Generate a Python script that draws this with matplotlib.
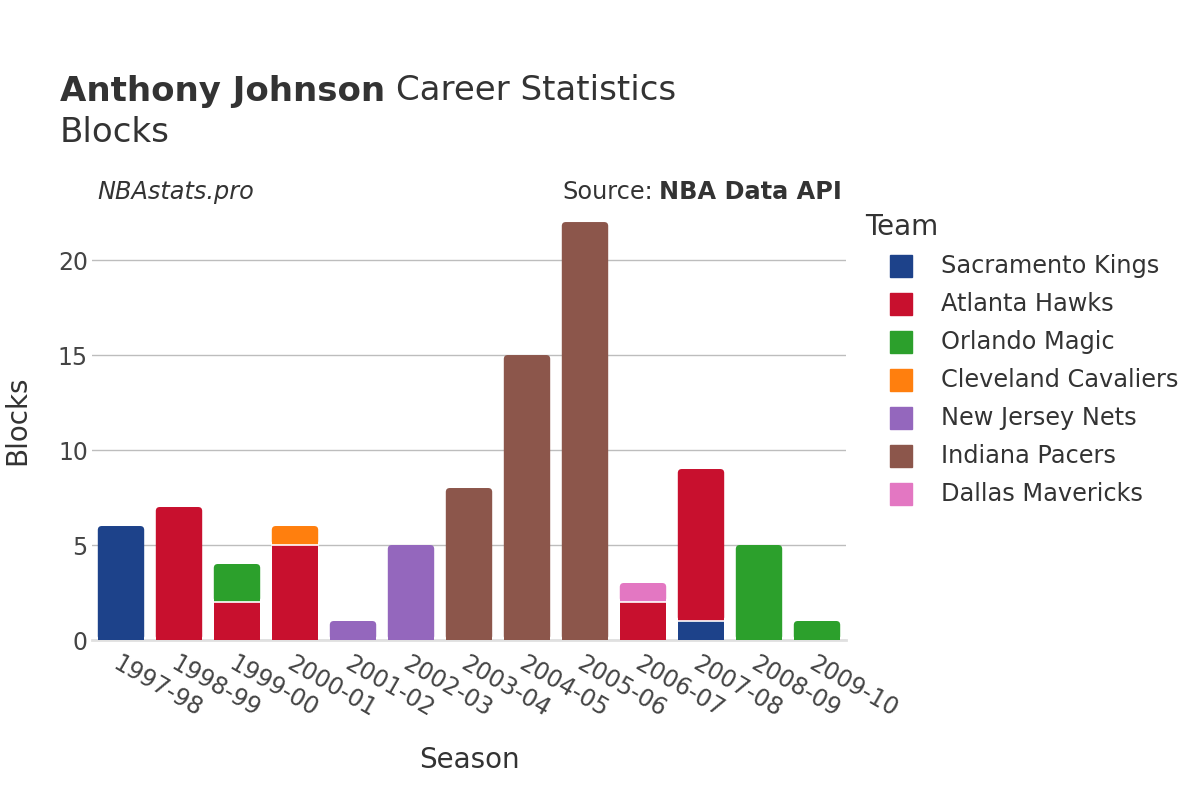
import matplotlib.pyplot as plt
from matplotlib.lines import Line2D
from matplotlib.patches import FancyBboxPatch, Rectangle
import numpy as np

plt.rcParams['font.family'] = ['DejaVu Sans']

seasons = ['1997-98', '1998-99', '1999-00', '2000-01', '2001-02', '2002-03', '2003-04',
           '2004-05', '2005-06', '2006-07', '2007-08', '2008-09', '2009-10']
teams = ['Sacramento Kings', 'Atlanta Hawks', 'Orlando Magic', 'Cleveland Cavaliers',
         'New Jersey Nets', 'Indiana Pacers', 'Dallas Mavericks']
colors = ['#1d428a', '#c8102e', '#2ca02c', '#ff7f0e', '#9467bd', '#8c564b', '#e377c2']

kings = [6, 0, 0, 0, 0, 0, 0, 0, 0, 0, 1, 0, 0]
hawks = [0, 7, 2, 5, 0, 0, 0, 0, 0, 2, 8, 0, 0]
magic = [0, 0, 2, 0, 0, 0, 0, 0, 0, 0, 0, 5, 1]
cavs = [0, 0, 0, 1, 0, 0, 0, 0, 0, 0, 0, 0, 0]
nets = [0, 0, 0, 0, 1, 5, 0, 0, 0, 0, 0, 0, 0]
pacers = [0, 0, 0, 0, 0, 0, 8, 15, 22, 0, 0, 0, 0]
mavs = [0, 0, 0, 0, 0, 0, 0, 0, 0, 1, 0, 0, 0]
series = [kings, hawks, magic, cavs, nets, pacers, mavs]

fig = plt.figure(figsize=(12, 8), dpi=100)
ax = fig.add_axes([92/1200, 160/800, (846-92)/1200, 440/800])
ax.set_xlim(-0.5, 12.5)
ax.set_ylim(0, 23.16)

x = np.arange(len(seasons))
width = 0.8
px_x = 754 / 13.0      # pixels per x unit
px_y = 440 / 23.16     # pixels per y unit
r_px = 4
rx = r_px / px_x
ry = r_px / px_y

totals = np.sum(np.array(series), axis=0)
bottom = np.zeros(len(seasons))
for vals, c in zip(series, colors):
    v = np.array(vals, dtype=float)
    for i in range(len(seasons)):
        if v[i] <= 0:
            continue
        x0 = x[i] - width / 2
        top_seg = abs(bottom[i] + v[i] - totals[i]) < 1e-9
        if top_seg:
            # rounded top corners, square bottom
            p = FancyBboxPatch((x0, bottom[i]), width, v[i],
                               boxstyle='round,pad=0,rounding_size=%f' % rx,
                               mutation_aspect=ry / rx, facecolor=c,
                               edgecolor='none', zorder=3)
            ax.add_patch(p)
            ax.add_patch(Rectangle((x0, bottom[i]), width, v[i] - ry,
                                   facecolor=c, edgecolor='none', zorder=3))
        else:
            ax.add_patch(Rectangle((x0, bottom[i]), width, v[i],
                                   facecolor=c, edgecolor='none', zorder=3))
        if bottom[i] > 0:
            ax.plot([x0, x0 + width], [bottom[i], bottom[i]], color='white',
                    linewidth=1.2, zorder=4)
    bottom += v

ax.set_yticks([0, 5, 10, 15, 20])
ax.grid(axis='y', color='#bdbdbd', linewidth=1, zorder=0)
for s in ['top', 'right', 'left']:
    ax.spines[s].set_visible(False)
ax.spines['bottom'].set_color('#e0e0e0')
ax.spines['bottom'].set_linewidth(2)
ax.tick_params(axis='both', length=0, labelsize=17, colors='#444444')
ax.tick_params(axis='y', pad=3)
ax.set_xticks(x)
ax.set_xticklabels(seasons, rotation=-30, ha='left', va='top', rotation_mode='anchor')
ax.tick_params(axis='x', pad=8)
ax.set_xlabel('Season', fontsize=20, color='#333333', labelpad=18)
ax.set_ylabel('Blocks', fontsize=20, color='#333333', labelpad=19)

# title
fig.text(60/1200, 1 - 91/800, 'Anthony Johnson', fontsize=24.5, fontweight='bold',
         color='#333333', va='center')
fig.text(396/1200, 1 - 91/800, 'Career Statistics', fontsize=24.5, color='#333333', va='center')
fig.text(60/1200, 1 - 133/800, 'Blocks', fontsize=24.5, color='#333333', va='center')

fig.text(97/1200, 1 - 192/800, 'NBAstats.pro', fontsize=17.3, style='italic',
         color='#333333', va='center')
fig.text(842/1200, 1 - 192/800, 'NBA Data API', fontsize=17.3, fontweight='bold',
         color='#333333', va='center', ha='right')
fig.text(653/1200, 1 - 192/800, 'Source:', fontsize=17.3, color='#333333',
         va='center', ha='right')

# legend
fig.text(865/1200, 1 - 227/800, 'Team', fontsize=20, color='#333333', va='center')
for k, (t, c) in enumerate(zip(teams, colors)):
    yy = 1 - (266 + 38 * k) / 800
    fig.add_artist(Line2D([901/1200], [yy], marker='s', markersize=16, color='none',
                          markerfacecolor=c, markeredgecolor=c,
                          transform=fig.transFigure))
    fig.text(941/1200, yy, t, fontsize=17.3, color='#333333', va='center')

fig.savefig('out.png', dpi=100)
